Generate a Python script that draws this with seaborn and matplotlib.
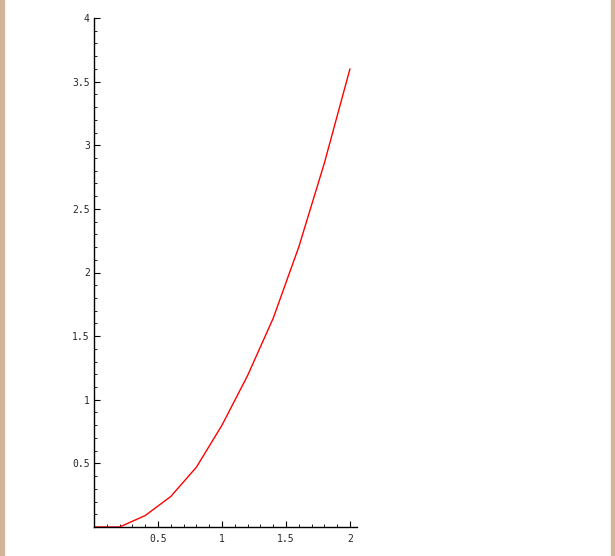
import seaborn as sns
import pandas as pd
import matplotlib.pyplot as plt
from matplotlib.patches import Rectangle
from matplotlib.ticker import MultipleLocator, FixedLocator

# curve samples
x_vals = [0.0, 0.2, 0.4, 0.6, 0.8, 1.0, 1.2, 1.4, 1.6, 1.8, 2.0]
y_vals = [0.0, 0.0, 0.09, 0.24, 0.47, 0.80, 1.19, 1.64, 2.20, 2.86, 3.60]

x_ticks = [0.5, 1, 1.5, 2]
x_labels = ['0.5', '1', '1.5', '2']
y_ticks = [0.5, 1, 1.5, 2, 2.5, 3, 3.5, 4]
y_labels = ['0.5', '1', '1.5', '2', '2.5', '3', '3.5', '4']

df = pd.DataFrame({'x': x_vals, 'y': y_vals})

sns.set_style('white')
plt.rcParams['font.family'] = ['DejaVu Sans Mono']

fig = plt.figure(figsize=(6.15, 5.56), dpi=100)
ax = fig.add_axes([94 / 615, 29 / 556, 263 / 615, 509 / 556])

sns.lineplot(data=df, x='x', y='y', color='red', linewidth=1.0, ax=ax)

ax.set_xlim(0, 2.055)
ax.set_ylim(0, 4)
ax.set_xlabel('')
ax.set_ylabel('')

for side in ['top', 'right']:
    ax.spines[side].set_visible(False)
for side in ['left', 'bottom']:
    ax.spines[side].set_color('black')
    ax.spines[side].set_linewidth(1.0)

ax.xaxis.set_major_locator(FixedLocator(x_ticks))
ax.set_xticklabels(x_labels)
ax.yaxis.set_major_locator(FixedLocator(y_ticks))
ax.set_yticklabels(y_labels)
ax.xaxis.set_minor_locator(MultipleLocator(0.1))
ax.yaxis.set_minor_locator(MultipleLocator(0.1))
ax.tick_params(which='major', direction='in', length=4, width=0.8,
               labelsize=7, color='black')
ax.tick_params(axis='x', which='major', pad=5)
ax.tick_params(axis='y', which='major', pad=3)
ax.tick_params(which='minor', direction='in', length=2.2, width=0.6,
               color='black')
ax.tick_params(axis='y', which='both', left=True)
ax.tick_params(axis='x', which='both', bottom=True)

# tan frame strips on the left and right edges
tan = '#d2b49b'
fig.patches.append(Rectangle((0, 0), 4 / 615, 1, transform=fig.transFigure,
                             color=tan, zorder=10))
fig.patches.append(Rectangle((611 / 615, 0), 4 / 615, 1, transform=fig.transFigure,
                             color=tan, zorder=10))

fig.savefig('out.png', dpi=100, facecolor='white')
